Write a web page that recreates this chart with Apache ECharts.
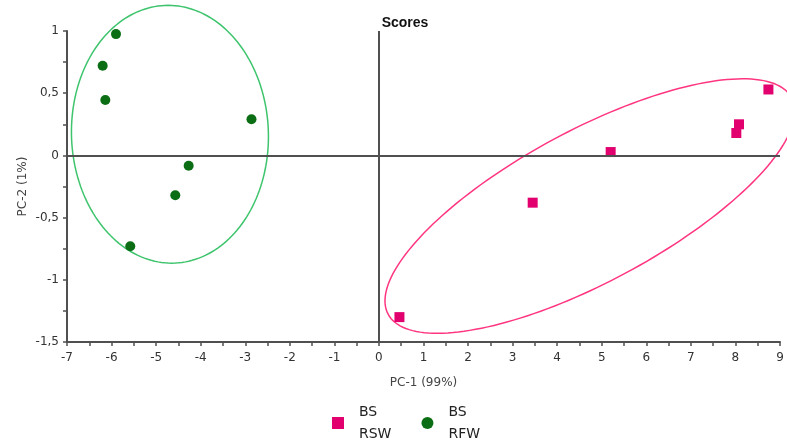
<!DOCTYPE html>
<html>
<head>
<meta charset="utf-8">
<script src="https://cdn.jsdelivr.net/npm/echarts@6/dist/echarts.min.js"></script>
<style>html,body{margin:0;padding:0;background:#fff}#c{width:787px;height:441px}</style>
</head>
<body>
<div id="c"></div>
<script>
// PC scores
const rswX = [0.46, 3.45, 5.2, 8.02, 8.08, 8.74];
const rswY = [-1.30, -0.38, 0.027, 0.18, 0.25, 0.53];
const rfwX = [-5.9, -6.2, -6.14, -2.86, -4.27, -4.57, -5.58];
const rfwY = [0.975, 0.72, 0.445, 0.29, -0.083, -0.32, -0.73];
// ellipses: [centerX, centerY, u_x, u_y, v_x, v_y] (conjugate semi-diameters, data units)
const rfwEllipse = [-4.69, 0.17, 2.21, 0.0, -0.04, 1.036];
const rswEllipse = [4.735, -0.407, 4.528, 0.870, 0.806, -0.538];
const xTicks = { min: -7, max: 9, step: 1 };
const yTicks = { min: -1.5, max: 1, step: 0.5 };
const seriesNames = ['BS RSW', 'BS RFW'];

const pairs = (xs, ys) => xs.map((x, i) => [x, ys[i]]);

function ellipseRender(color) {
  return function (params, api) {
    const cx = api.value(0), cy = api.value(1);
    const ux = api.value(2), uy = api.value(3), vx = api.value(4), vy = api.value(5);
    const pts = [];
    const N = 180;
    for (let i = 0; i <= N; i++) {
      const t = 2 * Math.PI * i / N;
      pts.push(api.coord([cx + ux * Math.cos(t) + vx * Math.sin(t), cy + uy * Math.cos(t) + vy * Math.sin(t)]));
    }
    return { type: 'polyline', shape: { points: pts }, style: { stroke: color, fill: 'none', lineWidth: 1.5 } };
  };
}

const axisColor = '#505050';
const chart = echarts.init(document.getElementById('c'));
chart.setOption({
  animation: false,
  backgroundColor: '#fff',
  title: {
    text: 'Scores', left: 400, top: 11, textAlign: 'center',
    textStyle: { fontFamily: 'Liberation Sans', fontWeight: 'bold', fontSize: 14, color: '#111' }
  },
  grid: { left: 67, right: 7, top: 31, bottom: 99 },
  xAxis: {
    type: 'value', min: xTicks.min, max: xTicks.max, interval: xTicks.step,
    name: 'PC-1 (99%)', nameLocation: 'middle', nameGap: 35, nameMoveOverlap: false,
    nameTextStyle: { fontFamily: 'DejaVu Sans', fontSize: 12, color: '#444' },
    axisLine: { show: true, onZero: false, lineStyle: { color: axisColor, width: 2 } },
    axisTick: { show: true, length: 4, lineStyle: { color: axisColor, width: 1.5 } },
    minorTick: { show: true, splitNumber: 2, length: 4, lineStyle: { color: axisColor, width: 1.5 } },
    splitLine: { show: false },
    axisLabel: { fontFamily: 'DejaVu Sans', fontSize: 12, color: '#333', margin: 10 }
  },
  yAxis: {
    type: 'value', min: yTicks.min, max: yTicks.max, interval: yTicks.step,
    name: 'PC-2 (1%)', nameLocation: 'middle', nameGap: 38, nameMoveOverlap: false,
    nameTextStyle: { fontFamily: 'DejaVu Sans', fontSize: 12, color: '#444' },
    axisLine: { show: true, onZero: false, lineStyle: { color: axisColor, width: 2 } },
    axisTick: { show: true, length: 4, lineStyle: { color: axisColor, width: 1.5 } },
    minorTick: { show: true, splitNumber: 2, length: 4, lineStyle: { color: axisColor, width: 1.5 } },
    splitLine: { show: false },
    axisLabel: {
      fontFamily: 'DejaVu Sans', fontSize: 12, color: '#333', margin: 8,
      formatter: v => String(v).replace('.', ',')
    }
  },
  legend: {
    left: 327, top: 396, itemWidth: 12, itemHeight: 12, itemGap: 30,
    data: [{ name: seriesNames[0], icon: 'rect' }, { name: seriesNames[1], icon: 'circle' }],
    formatter: n => n.replace(' ', '\n'),
    textStyle: { fontFamily: 'DejaVu Sans', fontSize: 14, color: '#222', lineHeight: 22, padding: [0, 0, 0, 10] }
  },
  series: [
    {
      type: 'scatter', name: 'zero', data: [], z: 1, silent: true,
      markLine: {
        silent: true, symbol: ['none', 'none'], label: { show: false },
        lineStyle: { color: axisColor, width: 2, type: 'solid' },
        data: [{ xAxis: 0 }, { yAxis: 0 }]
      }
    },
    {
      type: 'custom', name: 'rfwEllipse', clip: false, z: 2, silent: true,
      renderItem: ellipseRender('#3ec46d'), data: [rfwEllipse]
    },
    {
      type: 'custom', name: 'rswEllipse', clip: false, z: 2, silent: true,
      renderItem: ellipseRender('#ff3580'), data: [rswEllipse]
    },
    {
      type: 'scatter', name: seriesNames[0], symbol: 'rect', symbolSize: 10, z: 3,
      itemStyle: { color: '#e2006f', opacity: 1 }, data: pairs(rswX, rswY)
    },
    {
      type: 'scatter', name: seriesNames[1], symbol: 'circle', symbolSize: 10, z: 3,
      itemStyle: { color: '#0b6e14', opacity: 1 }, data: pairs(rfwX, rfwY)
    }
  ]
});
</script>
</body>
</html>
